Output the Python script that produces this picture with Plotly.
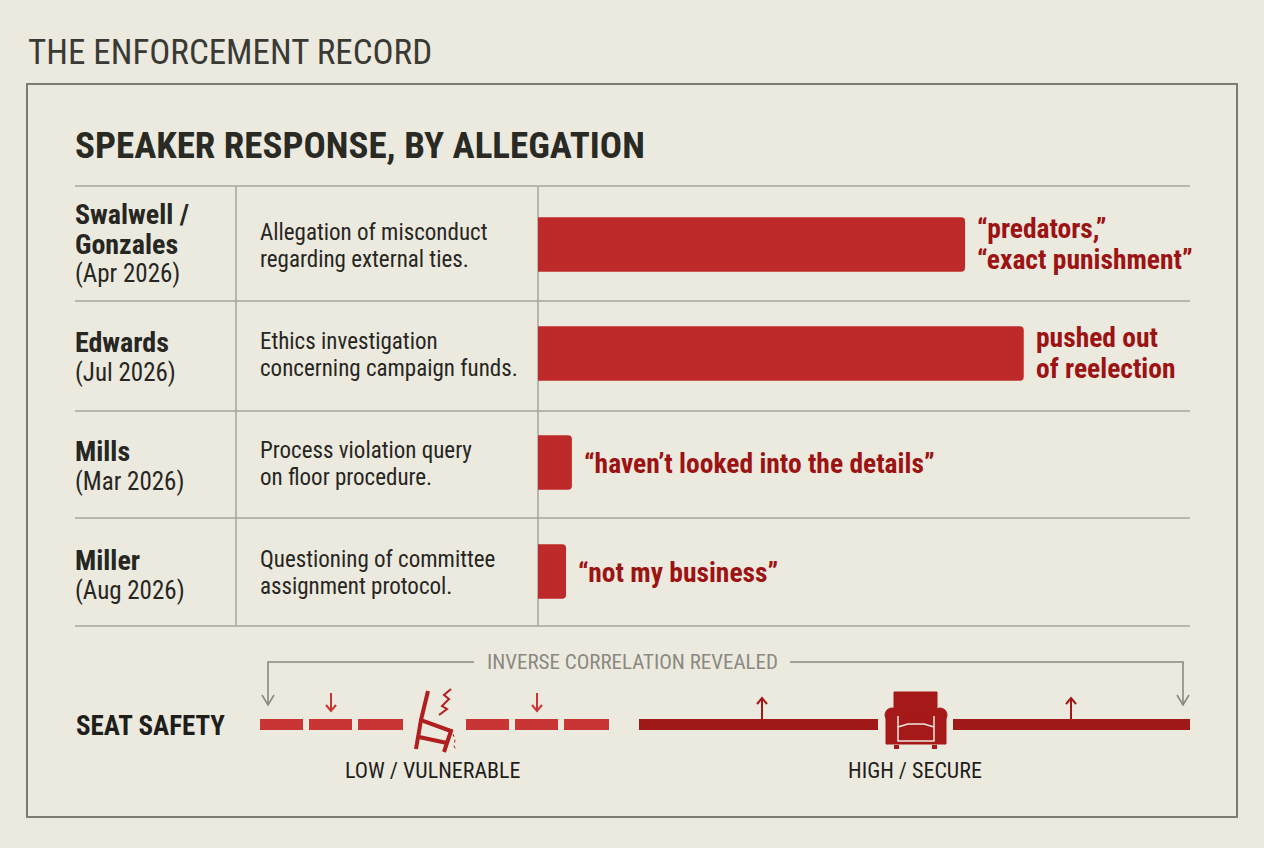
import plotly.graph_objects as go

W, H = 1264, 848

# ---- data ----
people = ["Swalwell / Gonzales", "Edwards", "Mills", "Miller"]
name_lines = [["Swalwell /", "Gonzales"], ["Edwards"], ["Mills"], ["Miller"]]
dates = ["(Apr 2026)", "(Jul 2026)", "(Mar 2026)", "(Aug 2026)"]
allegations = [
    ["Allegation of misconduct", "regarding external ties."],
    ["Ethics investigation", "concerning campaign funds."],
    ["Process violation query", "on floor procedure."],
    ["Questioning of committee", "assignment protocol."],
]
response = [65.5, 74.5, 5.2, 4.3]  # strength of speaker response (0-100)
quotes = [
    ["\u201cpredators,\u201d", "\u201cexact punishment\u201d"],
    ["pushed out", "of reelection"],
    ["\u201chaven\u2019t looked into the details\u201d"],
    ["\u201cnot my business\u201d"],
]
safety_labels = ["LOW / VULNERABLE", "HIGH / SECURE"]

FONT = "Roboto Condensed, Liberation Sans Narrow, DejaVu Sans Condensed, sans-serif"
BG = "#ECE9DF"
DARK = "#262622"
BAR = "#BE2A2A"
QUOTE = "#9C1313"
DEEP = "#A11818"
LIGHTRED = "#C93535"
GRID = "#A6A69E"
GREY = "#8A8A82"


def px(x):
    return x / W


def py(y):
    return 1 - y / H


def path(*pts):
    s = "M %.5f,%.5f" % (px(pts[0][0]), py(pts[0][1]))
    for p in pts[1:]:
        s += " L %.5f,%.5f" % (px(p[0]), py(p[1]))
    return s


fig = go.Figure()
fig.add_trace(go.Bar(
    x=response, y=people, orientation="h", width=0.5,
    marker=dict(color=BAR, line=dict(width=0)),
    hoverinfo="skip",
))

shapes = []
ann = []

# frame
shapes.append(dict(type="rect", xref="paper", yref="paper", x0=px(27), x1=px(1237),
                   y0=py(817), y1=py(84), line=dict(color="#7C7C74", width=2)))

# table lines (row rules)
for yb in [186, 301, 411, 518, 626]:
    shapes.append(dict(type="line", xref="paper", yref="paper", x0=px(75), x1=px(1190),
                       y0=py(yb), y1=py(yb), line=dict(color=GRID, width=1.5), layer="below"))
for xv in [236, 538]:
    shapes.append(dict(type="line", xref="paper", yref="paper", x0=px(xv), x1=px(xv),
                       y0=py(186), y1=py(626), line=dict(color=GRID, width=1.5), layer="below"))

# row text
for i, p in enumerate(people):
    lines = name_lines[i]
    if len(lines) == 2:
        shifts = [30, 0]
        dshift = -29
    else:
        shifts = [11]
        dshift = -19
    for ln, sh in zip(lines, shifts):
        ann.append(dict(text=ln, xref="paper", yref="y", x=px(73), y=p, yshift=sh,
                        xanchor="left", yanchor="middle", showarrow=False,
                        font=dict(family=FONT, size=28, color=DARK, weight="bold")))
    ann.append(dict(text=dates[i], xref="paper", yref="y", x=px(73), y=p, yshift=dshift,
                    xanchor="left", yanchor="middle", showarrow=False,
                    font=dict(family=FONT, size=25, color=DARK)))
    for ln, sh in zip(allegations[i], [12, -15]):
        ann.append(dict(text=ln, xref="paper", yref="y", x=px(258), y=p, yshift=sh,
                        xanchor="left", yanchor="middle", showarrow=False,
                        font=dict(family=FONT, size=23, color=DARK)))
    q = quotes[i]
    qsh = [16, -15] if len(q) == 2 else [-1]
    for ln, sh in zip(q, qsh):
        ann.append(dict(text=ln, xref="x", yref="y", x=response[i], y=p, yshift=sh, xshift=10,
                        xanchor="left", yanchor="middle", showarrow=False,
                        font=dict(family=FONT, size=27.5, color=QUOTE, weight="bold")))

# titles
ann.append(dict(text="THE ENFORCEMENT RECORD", xref="paper", yref="paper", x=px(26), y=py(52),
                xanchor="left", yanchor="middle", showarrow=False,
                font=dict(family=FONT, size=35, color="#3A3A35")))
ann.append(dict(text="SPEAKER RESPONSE, BY ALLEGATION", xref="paper", yref="paper", x=px(73), y=py(145),
                xanchor="left", yanchor="middle", showarrow=False,
                font=dict(family=FONT, size=37, color="#2A2A25", weight="bold")))

# ---- seat safety strip ----
ann.append(dict(text="SEAT SAFETY", xref="paper", yref="paper", x=px(74), y=py(726),
                xanchor="left", yanchor="middle", showarrow=False,
                font=dict(family=FONT, size=27, color="#1E1E1B", weight="bold")))
ann.append(dict(text="INVERSE CORRELATION REVEALED", xref="paper", yref="paper", x=px(632), y=py(662),
                xanchor="center", yanchor="middle", showarrow=False,
                font=dict(family=FONT, size=21, color=GREY)))
ann.append(dict(text=safety_labels[0], xref="paper", yref="paper", x=px(433), y=py(770),
                xanchor="center", yanchor="middle", showarrow=False,
                font=dict(family=FONT, size=22, color="#1E1E1B")))
ann.append(dict(text=safety_labels[1], xref="paper", yref="paper", x=px(915), y=py(770),
                xanchor="center", yanchor="middle", showarrow=False,
                font=dict(family=FONT, size=22, color="#1E1E1B")))

# bracket with arrows
for seg in [[(268, 704), (268, 662), (474, 662)], [(790, 662), (1183, 662), (1183, 704)],
            [(262, 695), (268, 705), (274, 695)], [(1177, 695), (1183, 705), (1189, 695)]]:
    shapes.append(dict(type="path", xref="paper", yref="paper", path=path(*seg),
                       line=dict(color=GREY, width=1.6)))

# low / vulnerable dashes
for x0, x1 in [(260, 303), (309, 352), (358, 403), (466, 509), (515, 558), (564, 609)]:
    shapes.append(dict(type="rect", xref="paper", yref="paper", x0=px(x0), x1=px(x1),
                       y0=py(730), y1=py(719), fillcolor=LIGHTRED, line=dict(width=0)))
for xa in [331, 537]:
    shapes.append(dict(type="path", xref="paper", yref="paper", path=path((xa, 693), (xa, 711)),
                       line=dict(color=LIGHTRED, width=2)))
    shapes.append(dict(type="path", xref="paper", yref="paper",
                       path=path((xa - 5, 705), (xa, 711), (xa + 5, 705)),
                       line=dict(color=LIGHTRED, width=2)))

# broken chair
CH = "#B01E1E"
for seg in [[(428, 691), (421, 720), (416, 749)], [(421, 720), (451, 731), (444, 752)],
            [(419, 737), (447, 743)]]:
    shapes.append(dict(type="path", xref="paper", yref="paper", path=path(*seg),
                       line=dict(color=CH, width=4)))
shapes.append(dict(type="path", xref="paper", yref="paper",
                   path=path((451, 689), (444, 695), (449, 699), (442, 706), (447, 709), (439, 715)),
                   line=dict(color=CH, width=2)))
shapes.append(dict(type="path", xref="paper", yref="paper",
                   path=path((453, 734), (455, 740), (454, 746), (456, 750)),
                   line=dict(color=CH, width=1, dash="dot")))

# high / secure bars
for x0, x1 in [(639, 878), (953, 1190)]:
    shapes.append(dict(type="rect", xref="paper", yref="paper", x0=px(x0), x1=px(x1),
                       y0=py(730), y1=py(719), fillcolor=DEEP, line=dict(width=0)))
for xa in [762, 1071]:
    shapes.append(dict(type="path", xref="paper", yref="paper", path=path((xa, 719), (xa, 698)),
                       line=dict(color=DEEP, width=2)))
    shapes.append(dict(type="path", xref="paper", yref="paper",
                       path=path((xa - 5, 704), (xa, 698), (xa + 5, 704)),
                       line=dict(color=DEEP, width=2)))

# armchair
ARM = "#A51919"
shapes.append(dict(type="rect", xref="paper", yref="paper", x0=px(894), x1=px(937),
                   y0=py(718), y1=py(692), fillcolor=ARM, line=dict(color=ARM, width=1)))
shapes.append(dict(type="rect", xref="paper", yref="paper", x0=px(886), x1=px(946),
                   y0=py(744), y1=py(718), fillcolor=ARM, line=dict(color=ARM, width=1)))
for cx in [892, 940]:
    shapes.append(dict(type="circle", xref="paper", yref="paper", x0=px(cx - 7), x1=px(cx + 7),
                       y0=py(722), y1=py(708), fillcolor=ARM, line=dict(color=ARM, width=1)))
shapes.append(dict(type="path", xref="paper", yref="paper",
                   path=path((898, 716), (898, 741), (934, 741), (934, 716)),
                   line=dict(color=BG, width=1.5)))
shapes.append(dict(type="path", xref="paper", yref="paper",
                   path=path((898, 727), (908, 724), (924, 724), (934, 727)),
                   line=dict(color=BG, width=1.5)))
for fx in [894, 932]:
    shapes.append(dict(type="rect", xref="paper", yref="paper", x0=px(fx), x1=px(fx + 5),
                       y0=py(749), y1=py(745), fillcolor=ARM, line=dict(width=0)))

fig.update_layout(
    width=W, height=H,
    margin=dict(l=0, r=0, t=0, b=0),
    paper_bgcolor=BG, plot_bgcolor="rgba(0,0,0,0)",
    showlegend=False,
    barcornerradius=4,
    xaxis=dict(domain=[px(538), px(1190)], range=[0, 100], visible=False, fixedrange=True),
    yaxis=dict(domain=[py(626), py(190)], type="category", categoryarray=people,
               range=[3.5, -0.5], visible=False, fixedrange=True),
    shapes=shapes,
    annotations=ann,
)

fig.write_html("out.html", config={"displayModeBar": False},
               post_script="document.body.style.margin='0';")
